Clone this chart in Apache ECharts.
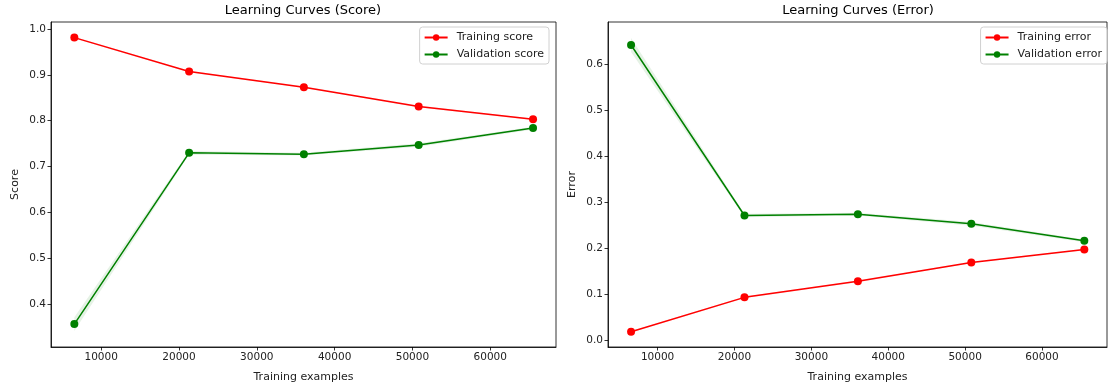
<!DOCTYPE html>
<html lang="en">
<head>
  <meta charset="UTF-8" />
  <title>Learning Curves</title>
  <script src="https://cdn.jsdelivr.net/npm/echarts@6/dist/echarts.min.js"></script>
  <style>
    html, body { margin: 0; padding: 0; background: #fff; }
    #chart { width: 1116px; height: 390px; }
  </style>
</head>
<body>
  <div id="chart"></div>
  <script>
    // training set sizes (x)
    const trainSizes = [6550, 21300, 36050, 50800, 65500];
    // left panel: scores
    const trainScore = [0.981, 0.907, 0.873, 0.831, 0.803];
    const valScore = [0.357, 0.730, 0.727, 0.747, 0.784];
    // right panel: errors
    const trainError = [0.018, 0.093, 0.128, 0.169, 0.197];
    const valError = [0.642, 0.271, 0.274, 0.253, 0.216];
    // shaded std bands
    const trainStd = [0.002, 0.002, 0.002, 0.002, 0.002];
    const valStd = [0.015, 0.004, 0.003, 0.004, 0.003];
    // tick labels
    const xTicks = [10000, 20000, 30000, 40000, 50000, 60000];
    const scoreTicks = [0.4, 0.5, 0.6, 0.7, 0.8, 0.9, 1.0];
    const errorTicks = [0.0, 0.1, 0.2, 0.3, 0.4, 0.5, 0.6];

    const RED = '#ff0000';
    const GREEN = '#008000';
    const FONT = 'DejaVu Sans';
    const TXT = '#222';

    const chart = echarts.init(document.getElementById('chart'));

    const pts = arr => trainSizes.map((x, i) => [x, arr[i]]);

    // std band as one polygon, drawn through the axis scales
    function band(idx, arr, sd, color) {
      return {
        type: 'custom', xAxisIndex: idx, yAxisIndex: idx, silent: true, z: 1,
        data: [0],
        renderItem: (params, api) => {
          const upper = trainSizes.map((x, i) => api.coord([x, arr[i] + sd[i]]));
          const low = trainSizes.map((x, i) => api.coord([x, arr[i] - sd[i]])).reverse();
          return {
            type: 'polygon',
            shape: { points: upper.concat(low) },
            style: { fill: color, opacity: 0.1 }
          };
        }
      };
    }

    function curve(idx, name, arr, color) {
      return {
        name: name, type: 'line', xAxisIndex: idx, yAxisIndex: idx,
        data: pts(arr), symbol: 'circle', symbolSize: 8,
        itemStyle: { color: color },
        lineStyle: { color: color, width: 1.5 },
        z: 3
      };
    }

    function xAxis(idx) {
      return {
        type: 'value', gridIndex: idx, min: 3550, max: 68450,
        name: 'Training examples', nameLocation: 'middle', nameGap: 25,
        nameTextStyle: { fontFamily: FONT, fontSize: 11, color: TXT },
        splitLine: { show: false },
        axisLine: { onZero: false, lineStyle: { color: '#000', width: 0.8 } },
        axisTick: { customValues: xTicks, length: 3.5, lineStyle: { color: '#000', width: 0.8 } },
        axisLabel: {
          customValues: xTicks, fontFamily: FONT, fontSize: 10.5, color: TXT, margin: 5,
          formatter: v => String(v)
        }
      };
    }

    function yAxis(idx, name, min, max, ticks) {
      return {
        type: 'value', gridIndex: idx, min: min, max: max,
        name: name, nameLocation: 'middle', nameGap: 30, nameRotate: 90,
        nameTextStyle: { fontFamily: FONT, fontSize: 11, color: TXT },
        splitLine: { show: false },
        axisLine: { show: true, onZero: false, lineStyle: { color: '#000', width: 0.8 } },
        axisTick: { show: true, customValues: ticks, length: 3.5, lineStyle: { color: '#000', width: 0.8 } },
        axisLabel: {
          customValues: ticks, fontFamily: FONT, fontSize: 10.5, color: TXT, margin: 5,
          formatter: v => v.toFixed(1)
        }
      };
    }

    function legend(names, right) {
      return {
        data: names, orient: 'vertical', right: right, top: 27,
        itemWidth: 23, itemHeight: 8, itemGap: 6,
        padding: [5, 5, 4, 4],
        borderColor: '#d0d0d0', borderWidth: 1, borderRadius: 3,
        backgroundColor: 'rgba(255,255,255,0.8)',
        textStyle: { fontFamily: FONT, fontSize: 11, color: TXT, padding: [0, 0, 0, 4] }
      };
    }

    chart.setOption({
      animation: false,
      title: [
        { text: 'Learning Curves (Score)', left: 303, top: 4, textAlign: 'center', padding: 0,
          textStyle: { fontFamily: FONT, fontSize: 13, fontWeight: 'normal', color: '#000' } },
        { text: 'Learning Curves (Error)', left: 858, top: 4, textAlign: 'center', padding: 0,
          textStyle: { fontFamily: FONT, fontSize: 13, fontWeight: 'normal', color: '#000' } }
      ],
      legend: [
        legend(['Training score', 'Validation score'], 567),
        legend(['Training error', 'Validation error'], 9)
      ],
      grid: [
        { left: 51, right: 560, top: 22, bottom: 43, show: true, borderColor: '#000', borderWidth: 0.8 },
        { left: 608, right: 9, top: 22, bottom: 43, show: true, borderColor: '#000', borderWidth: 0.8 }
      ],
      xAxis: [xAxis(0), xAxis(1)],
      yAxis: [
        yAxis(0, 'Score', 0.307, 1.015, scoreTicks),
        yAxis(1, 'Error', -0.015, 0.692, errorTicks)
      ],
      series: [
        band(0, trainScore, trainStd, RED),
        band(0, valScore, valStd, GREEN),
        curve(0, 'Training score', trainScore, RED),
        curve(0, 'Validation score', valScore, GREEN),
        band(1, trainError, trainStd, RED),
        band(1, valError, valStd, GREEN),
        curve(1, 'Training error', trainError, RED),
        curve(1, 'Validation error', valError, GREEN)
      ]
    });
  </script>
</body>
</html>
